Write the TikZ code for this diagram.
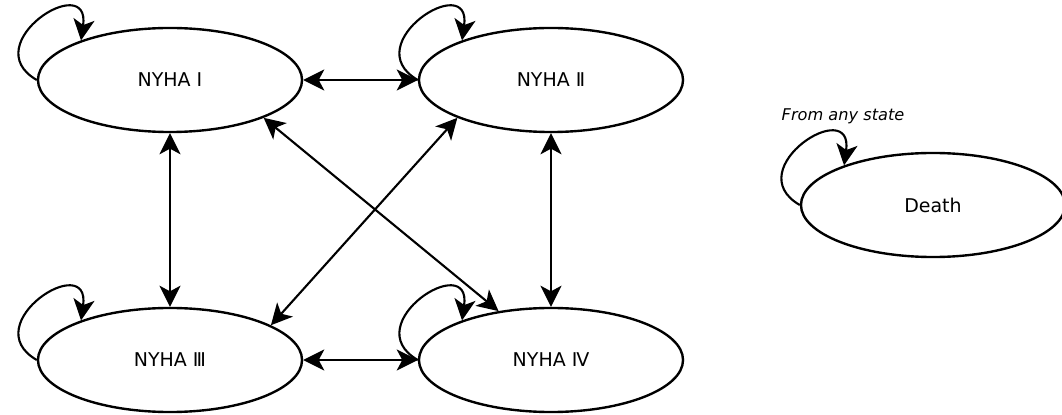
\documentclass[tikz,border=0pt]{standalone}
\usepackage{fontspec}
\setmainfont{DejaVu Sans}
\usetikzlibrary{shapes.geometric}
\usetikzlibrary{arrows.meta}

\begin{document}
\begin{tikzpicture}[x=0.025cm, y=0.025cm,
            state node/.style={ellipse, draw, line width=1.7pt, minimum width=6.6cm, minimum height=2.6cm, inner sep=0pt, font=\fontsize{13.5}{16}\selectfont},
            both way/.style={line width=1.5pt, {Stealth[length=15pt,width=15pt,inset=4pt]}-{Stealth[length=15pt,width=15pt,inset=4pt]}},
            self loop/.style={line width=1.5pt, -{Stealth[length=15pt,width=15pt,inset=4pt]}, out=150, in=82, looseness=3.1},
            ]
            \useasboundingbox (0,0) rectangle (1062,414);

            \node[state node] (1) at (170,334) {NYHA Ⅰ};
            \node[state node] (2) at (551,334) {NYHA Ⅱ};
            \node[state node] (3) at (170,54) {NYHA Ⅲ};
            \node[state node] (4) at (551,54) {NYHA Ⅳ};
            \node[state node] (5) at (933,209) {Death};
            \node[font=\fontsize{11.5}{13}\selectfont\itshape] (note) at (843,298) {From any state};

            \draw[both way] (1) -- (2);
            \draw[both way] (3) -- (4);
            \draw[both way] (1) -- (3);
            \draw[both way] (2) -- (4);
            \draw[both way] (1.-22) -- (4.137);
            \draw[both way] (2.202) -- (3.19);

            \draw[self loop] (1.180) to (1.156);
            \draw[self loop] (2.180) to (2.156);
            \draw[self loop] (3.180) to (3.156);
            \draw[self loop] (4.180) to (4.156);
            \draw[self loop] (5.180) to (5.156);
        \end{tikzpicture}
\end{document}
